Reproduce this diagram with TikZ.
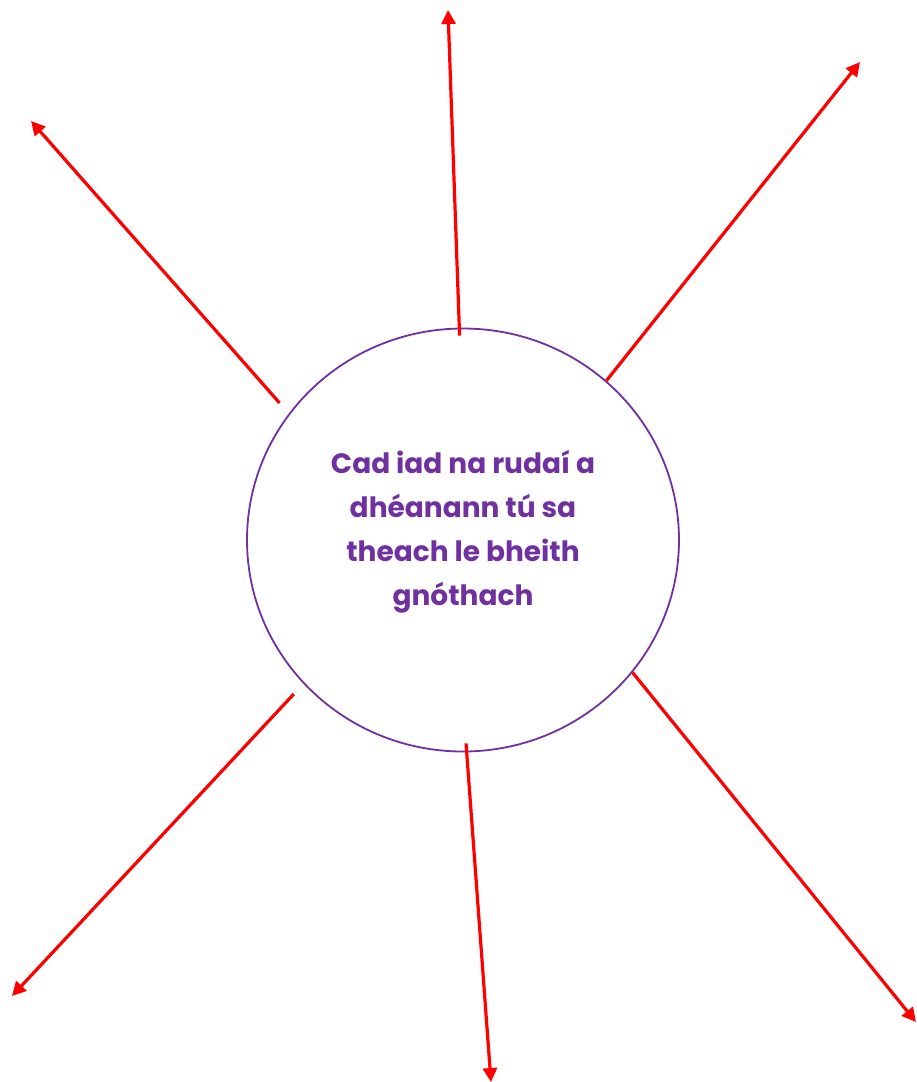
\documentclass[tikz,border=0pt]{standalone}
\usepackage{fontspec}
\setmainfont{Poppins}
\usetikzlibrary{arrows.meta,shapes.geometric}
\definecolor{cpurple}{HTML}{7030A0}
\definecolor{cred}{HTML}{FF0000}

\begin{document}
\begin{tikzpicture}[x=1pt, y=-1pt,
  hub/.style={ellipse, draw=cpurple, line width=1.8pt, inner sep=0pt,
    minimum width=432pt, minimum height=423pt},
  question/.style={text=cpurple, align=center,
    font=\fontsize{28}{44}\selectfont\bfseries},
  ray/.style={draw=cred, line width=3.2pt, -{Triangle[length=14pt, width=14pt]}}]

\useasboundingbox (0,0) rectangle (916,1082);

% centre question
\node[hub] (q) at (463,540) {};
\node[question] (qtext) at (463,532)
  {Cad iad na rudaí a\\ dhéanann tú sa\\ theach le bheith\\ gnóthach};

% free ends of the rays
\coordinate (nw) at (31,121);
\coordinate (n)  at (448,10);
\coordinate (ne) at (860,62);
\coordinate (sw) at (12,996);
\coordinate (s)  at (491,1082);
\coordinate (se) at (916,1022);

\draw[ray, shorten <=14pt] (q.144) -- (nw);
\draw[ray, shorten <=-8pt] (q.91.7) -- (n);
\draw[ray] (q.48.7) -- (ne);
\draw[ray, shorten <=14pt] (q.222.5) -- (sw);
\draw[ray, shorten <=-9pt] (q.271.2) -- (s);
\draw[ray] (q.322.6) -- (se);
\end{tikzpicture}
\end{document}
